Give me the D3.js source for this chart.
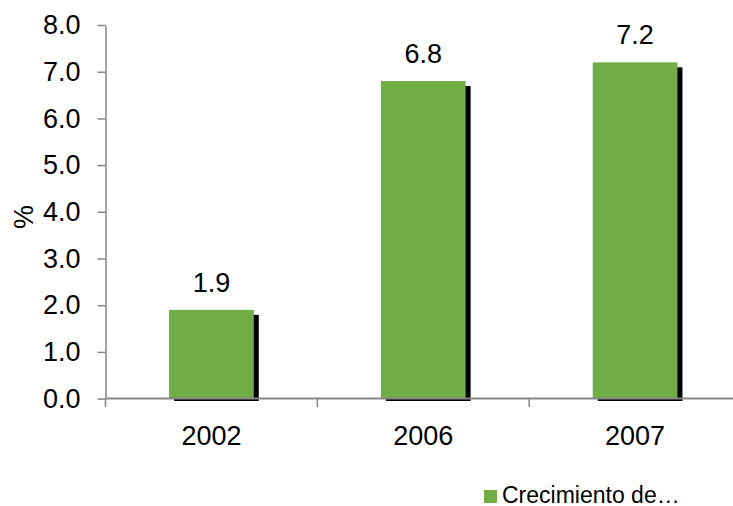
<!DOCTYPE html>
<html>
<head>
<meta charset="utf-8">
<script src="https://cdn.jsdelivr.net/npm/d3@7"></script>
<style>
  body { margin: 0; background: #fff; }
  svg { display: block; font-family: Arial, "Liberation Sans", sans-serif; }
</style>
</head>
<body>
<div id="chart"></div>
<script>
// Chart data
const years = ["2002", "2006", "2007"];
const growth = [1.9, 6.8, 7.2];
const yTicks = [0, 1, 2, 3, 4, 5, 6, 7, 8];
const seriesName = "Crecimiento de…";

const width = 733;
const height = 506;
const plot = { left: 105.5, right: 741, top: 25, bottom: 398.6 };
const green = "#70ad47";
const axisColor = "#868686";

const svg = d3
	.select("#chart")
	.append("svg")
	.attr("width", width)
	.attr("height", height);

// Scales
const x = d3
	.scaleBand()
	.domain(years)
	.range([plot.left, plot.right])
	.paddingInner(0.6)
	.paddingOuter(0.3);
const y = d3.scaleLinear().domain([0, 8]).range([plot.bottom, plot.top]);

// Clip so the bar shadows stop just under the baseline
svg
	.append("clipPath")
	.attr("id", "plot-clip")
	.append("rect")
	.attr("x", 0)
	.attr("y", 0)
	.attr("width", width)
	.attr("height", plot.bottom + 2.5);

const bars = years.map((d, i) => ({ year: d, value: growth[i] }));

// Shadows
svg
	.append("g")
	.attr("clip-path", "url(#plot-clip)")
	.selectAll(".shadow")
	.data(bars)
	.enter()
	.append("rect")
	.attr("class", "shadow")
	.attr("x", (d) => x(d.year) + 5)
	.attr("y", (d) => y(d.value) + 5)
	.attr("width", x.bandwidth())
	.attr("height", (d) => y(0) - y(d.value))
	.attr("fill", "#000");

// Bars
svg
	.selectAll(".bar")
	.data(bars)
	.enter()
	.append("rect")
	.attr("class", "bar")
	.attr("x", (d) => x(d.year))
	.attr("y", (d) => y(d.value))
	.attr("width", x.bandwidth())
	.attr("height", (d) => y(0) - y(d.value))
	.attr("fill", green);

// Y axis
const yAxis = svg
	.append("g")
	.attr("transform", "translate(" + plot.left + ",0)")
	.call(
		d3
			.axisLeft(y)
			.tickValues(yTicks)
			.tickFormat(d3.format(".1f"))
			.tickSize(8)
			.tickPadding(17)
			.tickSizeOuter(0),
	);
yAxis.select(".domain").attr("stroke", axisColor).attr("stroke-width", 1.5);
yAxis.selectAll(".tick line").attr("stroke", axisColor).attr("stroke-width", 1.5);
yAxis
	.selectAll(".tick text")
	.attr("fill", "#000")
	.style("font-size", "27px");

// X axis: line, separators between categories, labels under each bar
const xAxis = svg.append("g");
xAxis
	.append("line")
	.attr("x1", plot.left)
	.attr("x2", plot.right)
	.attr("y1", plot.bottom)
	.attr("y2", plot.bottom)
	.attr("stroke", axisColor)
	.attr("stroke-width", 2);

const gap = (x.step() - x.bandwidth()) / 2;
xAxis
	.selectAll(".sep")
	.data(years)
	.enter()
	.append("line")
	.attr("class", "sep")
	.attr("x1", (d) => x(d) - gap)
	.attr("x2", (d) => x(d) - gap)
	.attr("y1", plot.bottom)
	.attr("y2", plot.bottom + 8.5)
	.attr("stroke", axisColor)
	.attr("stroke-width", 1.5);

xAxis
	.selectAll(".xlabel")
	.data(years)
	.enter()
	.append("text")
	.attr("class", "xlabel")
	.attr("x", (d) => x(d) + x.bandwidth() / 2)
	.attr("y", plot.bottom + 46)
	.attr("text-anchor", "middle")
	.style("font-size", "27px")
	.text((d) => d);

// Value labels
svg
	.selectAll(".value")
	.data(bars)
	.enter()
	.append("text")
	.attr("class", "value")
	.attr("x", (d) => x(d.year) + x.bandwidth() / 2)
	.attr("y", (d) => y(d.value) - 18)
	.attr("text-anchor", "middle")
	.style("font-size", "27px")
	.text((d) => d3.format(".1f")(d.value));

// Y axis title
svg
	.append("text")
	.attr("transform", "translate(33,217) rotate(-90)")
	.attr("text-anchor", "middle")
	.style("font-size", "27px")
	.text("%");

// Legend
const legend = svg.append("g").attr("transform", "translate(484,490)");
legend
	.append("rect")
	.attr("width", 13)
	.attr("height", 13)
	.attr("fill", green);
legend
	.append("text")
	.attr("x", 18)
	.attr("y", 13)
	.style("font-size", "23px")
	.text(seriesName);
</script>
</body>
</html>
